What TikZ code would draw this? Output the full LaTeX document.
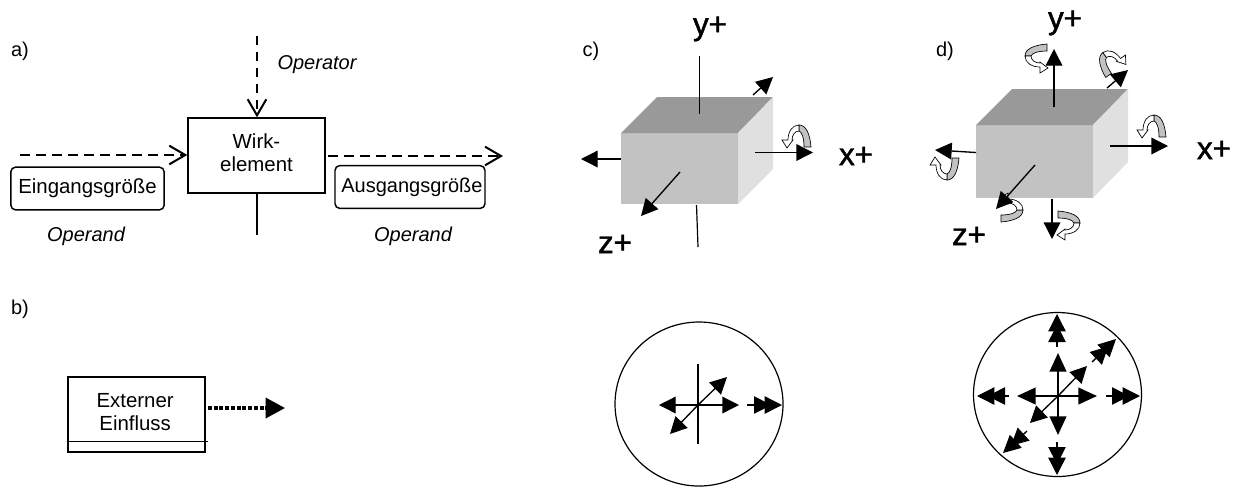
\documentclass[tikz,border=0pt]{standalone}
\usepackage{fontspec}
\setmainfont{Liberation Sans}
\newfontfamily\axisfont[FakeBold=1.5]{Liberation Sans}
\usetikzlibrary{arrows.meta,shapes.geometric}
\definecolor{topface}{gray}{0.6}
\definecolor{frontface}{gray}{0.76}
\definecolor{sideface}{gray}{0.88}
\tikzset{
  x=0.75pt,y=-0.75pt,
  txt/.style={inner sep=0pt,font=\fontsize{15pt}{17.3pt}\selectfont,align=center},
  optxt/.style={txt,font=\fontsize{15pt}{17.3pt}\selectfont\itshape},
  axis/.style={inner sep=0pt,font=\fontsize{23.5pt}{26pt}\axisfont\selectfont},
  sq/.style={draw=black,line width=1.1pt,fill=white,inner sep=0pt,font=\fontsize{15.3pt}{17.3pt}\selectfont,align=center},
  rnd/.style={sq,rounded corners=3.5pt},
  barb/.style={-{Straight Barb[length=12pt,width=14pt,line width=1.5pt]}},
  dashflow/.style={barb,line width=2pt,dash pattern=on 7.5pt off 4.5pt},
  dashdown/.style={barb,line width=1.5pt,dash pattern=on 7pt off 5pt},
  thin axis/.style={line width=0.9pt},
  tri/.style={line width=1pt,-{Triangle[length=12.5pt,width=12.5pt]}},
  tri2/.style={line width=1pt,-{Triangle[length=13pt,width=13pt,sep=-5pt]Triangle[length=13pt,width=13pt]}},
  mid tri/.style={line width=1.5pt,-{Triangle[length=14pt,width=12.5pt]}},
  ring/.style={draw=black,line width=0.9pt,fill=white},
  curl/.pic={
    \draw[line width=0.5pt,fill=frontface] (14,9) .. controls (13,-4) and (9,-13) .. (2,-13) -- (2,-7) .. controls (5,-6) and (7,0) .. (7,9) -- cycle;
    \draw[line width=0.5pt,fill=white] (2,-13) .. controls (-5,-13) and (-9,-6) .. (-9,2) -- (-15,2) -- (-10,10) -- (-4,2) -- (-5,2) .. controls (-5,-3) and (-2,-7) .. (2,-7) -- cycle;
  }
}
\begin{document}
\begin{tikzpicture}
\useasboundingbox (0,0) rectangle (1237,487);
% a)
\node[txt] (la) at (20,51) {a)};
\node[sq,minimum width=102.75pt,minimum height=56.25pt] (wirk) at (256.5,155.5) {\raisebox{-3.5pt}{\begin{tabular}{@{}c@{}}Wirk-\\element\end{tabular}}};
\node[rnd,minimum width=115pt,minimum height=32pt] (ein) at (87.5,188.5) {Eingangsgröße};
\node[rnd,minimum width=112.5pt,minimum height=32pt,font=\fontsize{15pt}{17.3pt}\selectfont] (aus) at (410,187) {\hspace*{3pt}Ausgangsgröße};
\node[optxt] (opr) at (317,65) {Operator};
\node[optxt] (op1) at (86,236) {Operand};
\node[optxt] (op2) at (413,236) {Operand};
\coordinate (optop) at (257,36);
\coordinate (inl) at (20,155);
\coordinate (outa) at (328,156);
\coordinate (outb) at (503,156);
\coordinate (wbot) at (257,235);
\draw[dashdown] (optop) -- (optop|-wirk.north);
\draw[dashflow] (inl) -- (inl-|wirk.west);
\draw[dashflow] (outa) -- (outb);
\draw[line width=1.5pt] (wbot|-wirk.south) -- (wbot);
% b)
\node[txt] (lb) at (20,309) {b)};
\node[sq,minimum width=102.75pt,minimum height=56.25pt] (ext) at (136.5,414.5) {\hspace*{-2pt}\raisebox{3.75pt}{\begin{tabular}{@{}c@{}}Externer\\Einfluss\end{tabular}}};
\coordinate (sepl) at (68,441.5);
\coordinate (sepr) at (208,441.5);
\coordinate (exa) at (208,408);
\coordinate (exb) at (285,408);
\draw[line width=1.1pt] (sepl) -- (sepr);
\draw[line width=2.6pt,dash pattern=on 3pt off 1.3pt,-{Triangle[length=14.5pt,width=15pt]}] (exa) -- (exb);
% c)
\node[txt] (lc) at (591,51) {c)};
\fill[frontface] (621,133) rectangle (738,204);
\fill[topface] (621,133) -- (657,97) -- (773,97) -- (738,133) -- cycle;
\fill[sideface] (738,133) -- (773,97) -- (773,169) -- (738,204) -- cycle;
\node[axis] (cy) at (710,29) {y+};
\node[axis] (cx) at (856,156) {x+};
\node[axis] (cz) at (615,244) {z+};
\pic at (797,138) {curl};
\draw[thin axis] (699.5,56) -- (699.5,114);
\draw[tri] (753,95) -- (773,77);
\draw[tri] (621,159) -- (581,159);
\draw[tri] (755,152.5) -- (813,152.5);
\draw[tri] (680,172) -- (641,216);
\draw[thin axis] (696.5,205) -- (698,247);
% c) disc
\node[ring,ellipse,minimum width=126pt,minimum height=123pt,inner sep=0pt] (cdisc) at (699,404) {};
\draw[thin axis] (698,364) -- (698,444);
\draw[tri] (698,405) -- (659,405);
\draw[tri] (698,405) -- (739,405);
\draw[tri] (698,405) -- (727,377);
\draw[tri] (698,405) -- (670,434);
\draw[tri2] (747,405) -- (782,405);
% d)
\node[txt] (ld) at (945,51) {d)};
\fill[frontface] (976,125) rectangle (1093,198);
\fill[topface] (976,125) -- (1012,89) -- (1128,89) -- (1093,125) -- cycle;
\fill[sideface] (1093,125) -- (1128,89) -- (1128,162) -- (1093,198) -- cycle;
\node[axis] (dy) at (1065,23) {y+};
\node[axis] (dx) at (1214,150) {x+};
\node[axis] (dz) at (969,236) {z+};
\pic at (1152,128) {curl};
\pic[rotate=90] at (1038,58) {curl};
\pic[rotate=35,xscale=-1] at (1112,62) {curl};
\pic[yscale=-1] at (945,167) {curl};
\pic[rotate=-90] at (1010,208) {curl};
\pic[rotate=-90,xscale=-1] at (1067,225) {curl};
\draw[tri] (1054,107) -- (1054,49);
\draw[tri] (1107,88) -- (1128,70);
\draw[tri] (1110,146) -- (1168,146);
\draw[tri] (976,152.5) -- (935,150);
\draw[tri] (1035,165) -- (996,209);
\draw[tri] (1052,199) -- (1052,239);
% d) disc
\node[ring,ellipse,minimum width=126pt,minimum height=123pt,inner sep=0pt] (ddisc) at (1057.5,394.5) {};
\draw[mid tri] (1058,396) -- (1058,353);
\draw[mid tri] (1058,396) -- (1058,435);
\draw[mid tri] (1058,396) -- (1017,396);
\draw[mid tri] (1058,396) -- (1097,396);
\draw[tri] (1058,396) -- (1087,366);
\draw[tri] (1058,396) -- (1030,423);
\draw[tri2] (1057,347) -- (1057,314);
\draw[tri2] (1057,442) -- (1057,475);
\draw[tri2] (1009,396) -- (977,396);
\draw[tri2] (1106,396) -- (1140,396);
\draw[tri2] (1092,362) -- (1116,339);
\draw[tri2] (1027,431) -- (1003,453);
\end{tikzpicture}
\end{document}
